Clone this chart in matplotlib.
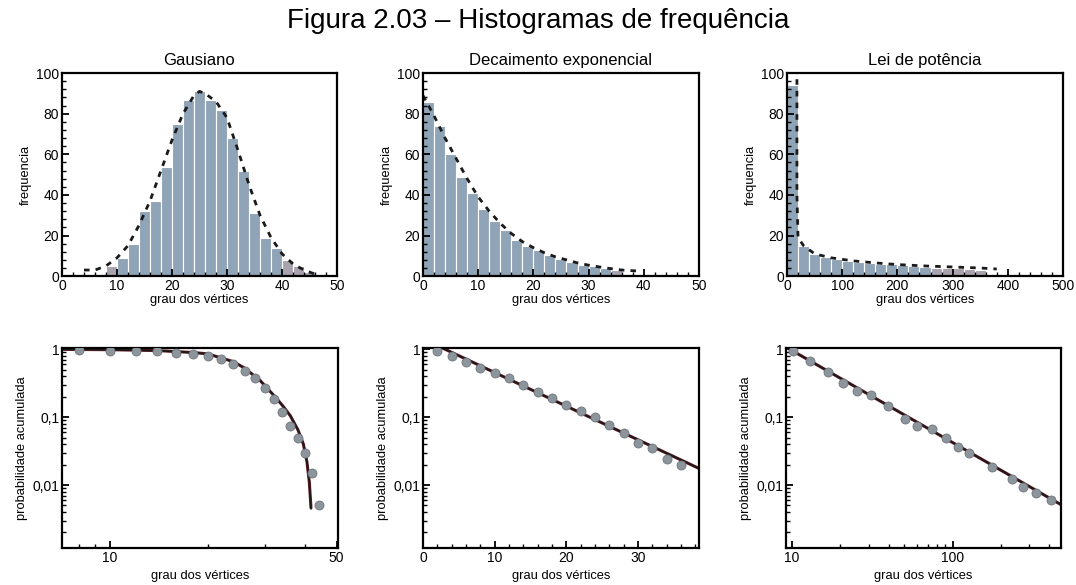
import numpy as np
import matplotlib
matplotlib.use("Agg")
import matplotlib.pyplot as plt
from matplotlib.ticker import MultipleLocator, FixedLocator, NullFormatter, FuncFormatter

plt.rcParams['font.family'] = ['Liberation Sans', 'DejaVu Sans']

# ---- histogram data (top row) ----
gauss_edges = [8, 10, 12, 14, 16, 18, 20, 22, 24, 26, 28, 30, 32, 34, 36, 38, 40, 42, 44, 46]
gauss_counts = [5, 9, 16, 32, 37, 54, 75, 87, 91, 87, 82, 68, 52, 31, 19, 14, 8, 5, 2]
gauss_fit_x = [4, 6, 8, 10, 12, 14, 16, 18, 20, 22, 24, 25, 26, 28, 30, 32, 34, 36, 38, 40, 42, 44, 46]
gauss_fit_y = [3, 3, 5, 9, 15, 25, 37, 52, 67, 80, 89, 91, 90, 86, 78, 62, 45, 30, 19, 11, 6, 3, 1]

expo_edges = [0, 2, 4, 6, 8, 10, 12, 14, 16, 18, 20, 22, 24, 26, 28, 30, 32, 34, 36]
expo_counts = [86, 74, 60, 49, 41, 33, 27, 22.5, 18, 15, 12.8, 10.5, 8.5, 7, 5.6, 5, 4, 3]
expo_fit_x = [0, 2, 4, 6, 8, 10, 12, 14, 16, 18, 20, 22, 24, 26, 28, 30, 32, 34, 36, 39]
expo_fit_y = [89, 79, 68, 58, 48, 39, 32, 26, 21, 17, 14, 11.5, 9.5, 8, 6.5, 5.4, 4.5, 3.7, 3, 2.5]

power_edges = [0, 20, 40, 60, 80, 100, 120, 140, 160, 180, 200, 220, 240, 260, 280, 300, 320, 340, 360]
power_counts = [94, 15, 11, 9.5, 8.5, 7.5, 7, 6.5, 6, 5.8, 5.5, 5, 4.5, 4, 4, 3.8, 3.5, 3]
power_fit_x = [18, 18, 20, 30, 50, 80, 120, 160, 200, 250, 300, 350, 380]
power_fit_y = [97, 40, 19, 15, 11, 9, 7.5, 6.5, 5.7, 5, 4.5, 4, 3.5]

# ---- cumulative data (bottom row) ----
gauss_cum_x = [8, 10, 12, 14, 16, 18, 20, 22, 24, 26, 28, 30, 32, 34, 36, 38, 40, 42, 44]
gauss_cum_y = [0.967, 0.956, 0.956, 0.945, 0.893, 0.864, 0.807, 0.713, 0.602, 0.486,
               0.375, 0.270, 0.184, 0.120, 0.074, 0.050, 0.030, 0.0149, 0.0050]
gauss_line_x = [7.1, 10, 14, 18, 20, 24, 26, 29, 32, 34, 36, 38, 39.5, 40.5, 41.2, 41.7]
gauss_line_y = [1.0, 0.99, 0.96, 0.90, 0.86, 0.66, 0.53, 0.35, 0.21, 0.15, 0.105, 0.065, 0.04, 0.022, 0.011, 0.0045]

expo_cum_x = [2, 4, 6, 8, 10, 12, 14, 16, 18, 20, 22, 24, 26, 28, 30, 32, 34, 36]
expo_cum_y = [0.945, 0.789, 0.651, 0.532, 0.449, 0.375, 0.302, 0.238, 0.195, 0.154,
              0.124, 0.101, 0.077, 0.059, 0.042, 0.035, 0.024, 0.0197]
expo_line_x = [2.7, 38.5]
expo_line_y = [1.05, 0.0176]

power_cum_x = [10.2, 13.0, 16.9, 20.9, 25.6, 31.2, 39.8, 50.6, 60.3, 74.3, 90.9,
               108, 127, 175, 234, 273, 330, 406]
power_cum_y = [0.945, 0.667, 0.464, 0.320, 0.244, 0.216, 0.145, 0.0945, 0.0746, 0.068,
               0.0502, 0.0366, 0.0292, 0.0186, 0.0124, 0.00925, 0.0077, 0.0060]
power_line_x = [9.4, 472]
power_line_y = [1.05, 0.00514]

blue = '#90a4b7'
mauve = '#a8a1ae'

fig = plt.figure(figsize=(10.76, 5.85), dpi=100)
fig.text(0.5, 0.964, 'Figura 2.03 – Histogramas de frequência', ha='center', va='center', fontsize=20)

top_pos = [[0.0576, 0.528, 0.2556, 0.347], [0.3931, 0.528, 0.2565, 0.347], [0.7314, 0.528, 0.2565, 0.347]]
bot_pos = [[0.0576, 0.0632, 0.2565, 0.342], [0.3931, 0.0632, 0.2565, 0.342], [0.7305, 0.0632, 0.2556, 0.342]]


def style_axes(ax):
    for s in ax.spines.values():
        s.set_linewidth(1.6)
    ax.tick_params(which='both', direction='in', top=False, right=False, labelsize=10, pad=2)
    ax.tick_params(which='major', length=5, width=1.3)
    ax.tick_params(which='minor', length=3, width=1.0)


def hist_panel(pos, edges, counts, fit_x, fit_y, title, xmax, minor_x, major_x, tail):
    ax = fig.add_axes(pos)
    edges = np.array(edges, dtype=float)
    w = np.diff(edges)
    colors = [mauve if (e < tail[0] or e >= tail[1]) else blue for e in edges[:-1]]
    ax.bar(edges[:-1], counts, width=w, align='edge', color=colors, edgecolor='white', linewidth=0.8)
    ax.plot(fit_x, fit_y, linestyle=(0, (2.0, 2.2)), color='#1a1a1a', linewidth=2.0)
    ax.set_xlim(0, xmax)
    ax.set_ylim(0, 100)
    ax.xaxis.set_major_locator(MultipleLocator(major_x))
    ax.xaxis.set_minor_locator(MultipleLocator(minor_x))
    ax.yaxis.set_major_locator(MultipleLocator(20))
    ax.yaxis.set_minor_locator(MultipleLocator(4))
    style_axes(ax)
    ax.set_title(title, fontsize=12, pad=6)
    ax.set_xlabel('grau dos vértices', fontsize=9.3, labelpad=1)
    ax.set_ylabel('frequencia', fontsize=9.3, labelpad=3)
    return ax


hist_panel(top_pos[0], gauss_edges, gauss_counts, gauss_fit_x, gauss_fit_y, 'Gausiano', 50, 2, 10, (10, 40))
hist_panel(top_pos[1], expo_edges, expo_counts, expo_fit_x, expo_fit_y, 'Decaimento exponencial', 50, 2, 10, (-1, 34))
hist_panel(top_pos[2], power_edges, power_counts, power_fit_x, power_fit_y, 'Lei de potência', 500, 20, 100, (-1, 260))


def comma(v, p):
    if abs(v - 1) < 1e-9:
        return '1'
    if abs(v - 0.1) < 1e-9:
        return '0,1'
    if abs(v - 0.01) < 1e-9:
        return '0,01'
    return ''


def cum_panel(pos, px, py, lx, ly, logx, xlim):
    ax = fig.add_axes(pos)
    ax.set_yscale('log')
    if logx:
        ax.set_xscale('log')
    ax.plot(lx, ly, color='#6b1a26', linewidth=2.2, solid_capstyle='butt')
    ax.plot(lx, ly, color='#1a1a1a', linewidth=1.3)
    ax.scatter(px, py, s=42, color='#8c949c', edgecolor='#6e757c', linewidth=0.6, zorder=3)
    ax.set_xlim(*xlim)
    ax.set_ylim(0.00118, 1.05)
    ax.yaxis.set_major_locator(FixedLocator([0.01, 0.1, 1]))
    ax.yaxis.set_major_formatter(FuncFormatter(comma))
    ax.yaxis.set_minor_locator(FixedLocator([k * 10.0 ** e for e in (-3, -2, -1) for k in range(2, 10)]))
    ax.yaxis.set_minor_formatter(NullFormatter())
    style_axes(ax)
    ax.set_xlabel('grau dos vértices', fontsize=9.3, labelpad=4)
    ax.set_ylabel('probabilidade acumulada', fontsize=9.3, labelpad=3)
    return ax


ax = cum_panel(bot_pos[0], gauss_cum_x, gauss_cum_y, gauss_line_x, gauss_line_y, True, (7.1, 50.5))
ax.xaxis.set_major_locator(FixedLocator([10, 50]))
ax.xaxis.set_major_formatter(FuncFormatter(lambda v, p: '%d' % v))
ax.xaxis.set_minor_locator(FixedLocator([8, 9, 20, 30, 40]))
ax.xaxis.set_minor_formatter(NullFormatter())

ax = cum_panel(bot_pos[1], expo_cum_x, expo_cum_y, expo_line_x, expo_line_y, False, (0, 38.5))
ax.xaxis.set_major_locator(MultipleLocator(10))
ax.xaxis.set_minor_locator(MultipleLocator(2))

ax = cum_panel(bot_pos[2], power_cum_x, power_cum_y, power_line_x, power_line_y, True, (9.2, 472))
ax.xaxis.set_major_locator(FixedLocator([10, 100]))
ax.xaxis.set_major_formatter(FuncFormatter(lambda v, p: '%d' % v))
ax.xaxis.set_minor_locator(FixedLocator([20, 30, 40, 50, 60, 70, 80, 90, 200, 300, 400]))
ax.xaxis.set_minor_formatter(NullFormatter())

fig.savefig('out.png', dpi=100)
